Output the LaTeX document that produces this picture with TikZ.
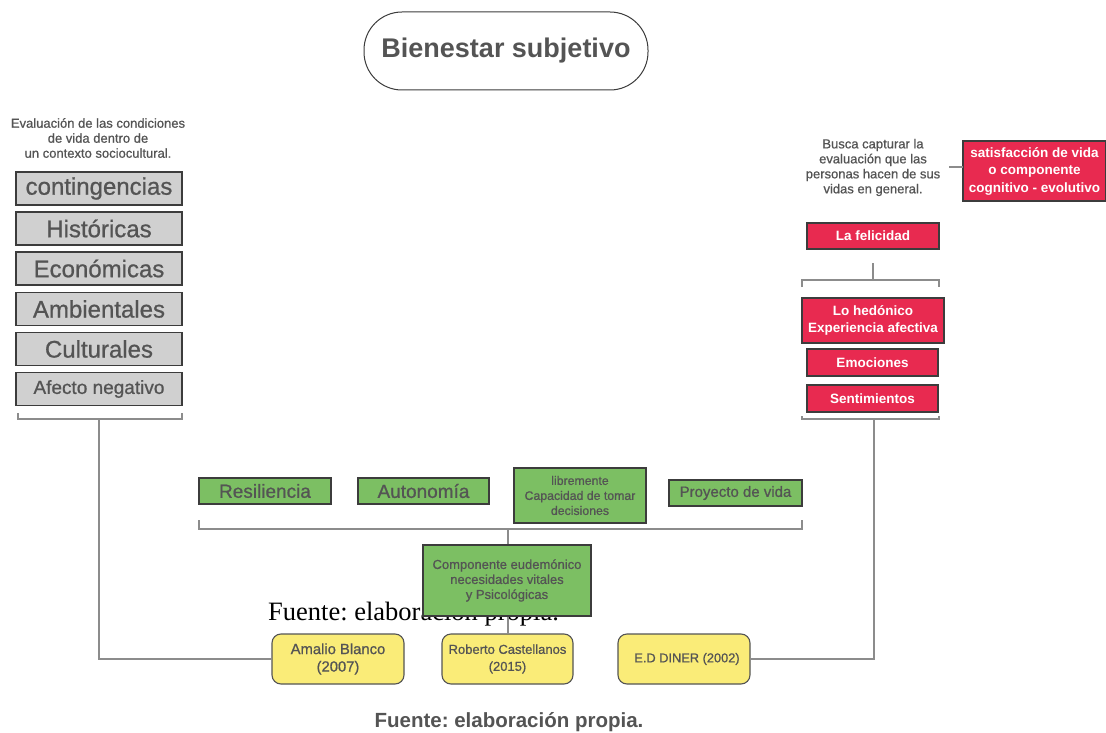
\documentclass[tikz,border=0pt]{standalone}
\usepackage{fontspec}
\setmainfont{Liberation Sans}
\newfontfamily\medfont[FakeBold=0.8]{Liberation Sans}
\newfontfamily\timesfont{Liberation Serif}
\frenchspacing

\definecolor{ink}{HTML}{545454}
\definecolor{boxline}{HTML}{3C3C3C}
\definecolor{linegray}{HTML}{8C8C8C}
\definecolor{grayfill}{HTML}{D0D0D0}
\definecolor{redfill}{HTML}{E82A50}
\definecolor{greenfill}{HTML}{7CBF63}
\definecolor{yellowfill}{HTML}{FAEC78}

\tikzset{
  box/.style={draw=boxline, line width=1.1pt, inner sep=0pt, outer sep=0pt,
    align=center, text=ink},
  graybox/.style={box, fill=grayfill, minimum width=166pt, minimum height=33pt,
    font=\medfont\fontsize{24}{28}\selectfont},
  redbox/.style={box, fill=redfill, text=white,
    font=\bfseries\fontsize{13.5}{17.5}\selectfont},
  greenbox/.style={box, fill=greenfill},
  yellowbox/.style={box, fill=yellowfill, rounded corners=9pt, draw=ink},
  caption/.style={align=center, text=ink, inner sep=0pt,
    font=\medfont\fontsize{13}{15}\selectfont},
  link/.style={draw=linegray, line width=1.2pt},
}

\begin{document}
\begin{tikzpicture}[x=1pt,y=-1pt]
\useasboundingbox (0,0) rectangle (1106,733);

% source note in serif, partly hidden behind the green box
\node[anchor=base west, inner sep=0pt, font=\timesfont\fontsize{26.5}{30}\selectfont]
  (fuenteserif) at (268,620) {Fuente: elaboración propia.};

% title
\node[draw=boxline, line width=1pt, rounded corners=38pt, minimum width=284pt,
  minimum height=78pt, inner sep=0pt, text=ink,
  font=\bfseries\fontsize{27}{30}\selectfont] (title) at (506,51) {Bienestar subjetivo};

% left column: contingencies
\node[caption] (capL) at (98,138) {Evaluación de las condiciones\\de vida dentro de\\un contexto sociocultural.};
\node[graybox] (cont) at (99,188.5) {contingencias};
\node[graybox] (hist) at (99,228.5) {Históricas};
\node[graybox] (econ) at (99,268.5) {Económicas};
\node[graybox] (amb)  at (99,309) {Ambientales};
\node[graybox] (cult) at (99,349) {Culturales};
\node[graybox, font=\medfont\fontsize{19}{22}\selectfont] (afec) at (99,389) {Afecto negativo};

% right column: hedonic component
\node[caption] (capR) at (873,167.5) {Busca capturar la\\evaluación que las\\personas hacen de sus\\vidas en general.};
\node[redbox, minimum width=143pt, minimum height=60pt] (sat) at (1034.5,171)
  {satisfacción de vida\\o componente\\cognitivo - evolutivo};
\node[redbox, minimum width=132pt, minimum height=26pt] (feli) at (873,236) {La felicidad};
\node[redbox, minimum width=142pt, minimum height=45pt] (hedo) at (873,320.5)
  {Lo hedónico\\Experiencia afectiva};
\node[redbox, minimum width=131pt, minimum height=27pt] (emoc) at (872.5,362.5) {Emociones};
\node[redbox, minimum width=131pt, minimum height=27pt] (sent) at (872.5,398.5) {Sentimientos};

% middle row: eudaimonic component
\node[greenbox, minimum width=132pt, minimum height=26pt,
  font=\medfont\fontsize{19}{22}\selectfont] (resi) at (265,491) {Resiliencia};
\node[greenbox, minimum width=131pt, minimum height=26pt,
  font=\medfont\fontsize{19}{22}\selectfont] (auto) at (423.5,491) {Autonomía};
\node[greenbox, minimum width=132pt, minimum height=55pt,
  font=\medfont\fontsize{12.3}{15}\selectfont] (libr) at (580,495.5)
  {libremente\\Capacidad de tomar\\decisiones};
\node[greenbox, minimum width=133pt, minimum height=26pt,
  font=\medfont\fontsize{15}{18}\selectfont] (proy) at (735.5,493) {Proyecto de vida};

% authors
\node[yellowbox, minimum width=132pt, minimum height=50pt,
  font=\medfont\fontsize{14.8}{17.5}\selectfont] (amalio) at (338,659) {Amalio Blanco\\(2007)};
\node[yellowbox, minimum width=131pt, minimum height=50pt,
  font=\medfont\fontsize{13}{17}\selectfont] (roberto) at (507.5,659) {Roberto Castellanos\\(2015)};
\node[yellowbox, minimum width=132pt, minimum height=50pt,
  font=\medfont\fontsize{12.8}{17}\selectfont] (diner) at (684,659) {\hspace*{6pt}E.D DINER (2002)};

% bracket and link points
\coordinate (bL) at (99,419);
\coordinate (bRtop) at (873,280);
\coordinate (bRbot) at (874,419);
\coordinate (bG) at (508,529);
\coordinate (capRend) at (949,167);
\coordinate (felilow) at (873,263);
\coordinate (compTop) at (508,545);
\coordinate (compBot) at (508,616);

% left bracket to Amalio Blanco
\draw[link] (18,413) -- (18,419) -- (182,419) -- (182,413);
\draw[link] (bL) |- (amalio.west);

% right brackets to E.D DINER
\draw[link] (felilow) -- (bRtop);
\draw[link] (802,287) -- (802,280) -- (939,280) -- (939,287);
\draw[link] (802,416) -- (802,419) -- (939,419) -- (939,416);
\draw[link] (bRbot) |- (diner.east);
\draw[link] (capRend) -- (sat.west |- capRend);

% green bracket through the eudaimonic box to Roberto Castellanos
\draw[link] (199,520) -- (199,529) -- (802,529) -- (802,520);
\draw[link] (bG) -- (compTop);
\draw[link] (compBot) -- (roberto.north -| compBot);

\node[greenbox, minimum width=168pt, minimum height=71pt,
  font=\medfont\fontsize{13}{15}\selectfont] (comp) at (507,580.5)
  {Componente eudemónico\\necesidades vitales\\y Psicológicas};

% source note
\node[text=ink, inner sep=0pt, font=\bfseries\fontsize{20.5}{24}\selectfont]
  (fuente) at (509,722) {Fuente: elaboración propia.};
\end{tikzpicture}
\end{document}
